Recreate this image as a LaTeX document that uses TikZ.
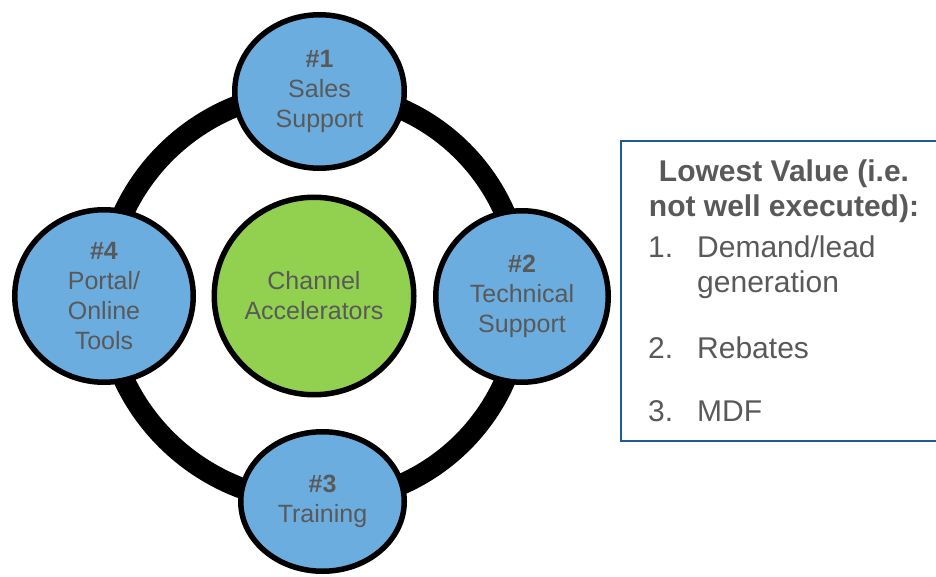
\documentclass[tikz,border=0pt]{standalone}
\usepackage{fontspec}
\setmainfont{Liberation Sans}
\usetikzlibrary{shapes.geometric,backgrounds}
\definecolor{hubgreen}{RGB}{146,208,80}
\definecolor{spokeblue}{RGB}{108,173,223}
\definecolor{textgray}{RGB}{89,89,89}
\definecolor{boxblue}{RGB}{31,90,150}
\newcommand{\spokefont}{\fontsize{25}{30}\selectfont}
\newcommand{\listfont}{\fontsize{30}{35}\selectfont}
\tikzset{
  spoke/.style={ellipse, draw=black, line width=5.5pt, fill=spokeblue, align=center,
    inner sep=0pt, text=textgray, font=\spokefont},
  ring/.style={line width=21pt, draw=black},
  listitem/.style={inner sep=0pt, anchor=base west, text=textgray, font=\listfont},
}

\begin{document}
\begin{tikzpicture}[x=1pt, y=-1pt]
    \useasboundingbox (0,0) rectangle (936,577);

    % Hub and the four accelerators
    \node[spoke, fill=hubgreen, minimum width=199.5pt, minimum height=197.5pt] (hub) at (314,296) {Channel\\Accelerators};
    \node[spoke, minimum width=169.5pt, minimum height=153.5pt] (sales) at (319.5,91.5) {\textbf{\#1}\\Sales\\Support};
    \node[spoke, minimum width=172.5pt, minimum height=171.5pt] (tech) at (522,296.5) {\textbf{\#2}\\Technical\\Support};
    \node[spoke, minimum width=163.5pt, minimum height=139.5pt] (train) at (322.5,501.5) {\textbf{\#3}\\Training};
    \node[spoke, minimum width=178.5pt, minimum height=172.5pt] (portal) at (104,296) {\textbf{\#4}\\Portal/\\Online\\Tools};

    % Ring behind the accelerators
    \begin{scope}[on background layer]
        \draw[ring] (sales.center) to[bend left=45] (tech.center)
            to[bend left=45] (train.center)
            to[bend left=45] (portal.center)
            to[bend left=45] (sales.center);
    \end{scope}

    % Lowest value box
    \node[draw=boxblue, line width=2pt, minimum width=340pt, minimum height=299pt, inner sep=0pt] (lowest) at (791,291) {};
    \node[anchor=base, inner sep=0pt, text=textgray, font=\listfont\bfseries] (title1) at (784,182) {Lowest Value (i.e.};
    \node[anchor=base, inner sep=0pt, text=textgray, font=\listfont\bfseries] (title2) at (784,217) {not well executed):};

    \node[listitem] (num1) at (648,257) {1.};
    \node[listitem] (item1) at (697,257) {Demand/lead};
    \node[listitem] (item1b) at (697,292) {generation};
    \node[listitem] (num2) at (648,358) {2.};
    \node[listitem] (item2) at (697,358) {Rebates};
    \node[listitem] (num3) at (648,421) {3.};
    \node[listitem] (item3) at (697,421) {MDF};
\end{tikzpicture}
\end{document}
